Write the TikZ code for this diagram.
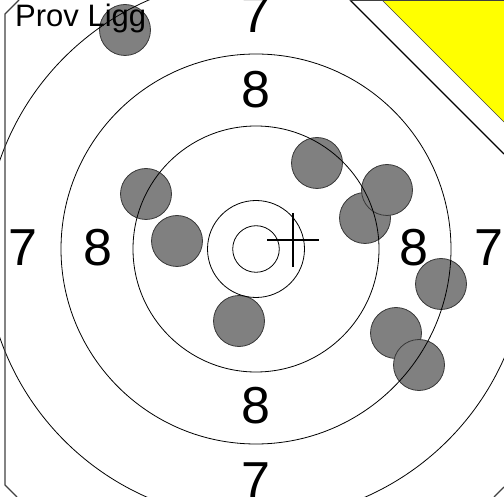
\documentclass[tikz,border=0pt]{standalone}
\usepackage{fontspec}
\setmainfont{Liberation Sans}
\usepackage{xcolor}
\definecolor{shotgrey}{HTML}{808080}
\definecolor{shotedge}{HTML}{383838}
\definecolor{flag}{HTML}{FFFF00}
\definecolor{edge}{HTML}{404040}
\usepackage{tikz}
\usetikzlibrary{positioning,calc}
\tikzset{
  ring/.style={draw=black,line width=0.8pt},
  shot/.style={circle,draw=shotedge,fill=shotgrey,line width=0.8pt,minimum size=51pt,inner sep=0pt},
  score/.style={font=\fontsize{52}{52}\selectfont,inner sep=0pt},
  frame/.style={draw=edge,line width=1.2pt},
  aim/.style={draw=black,line width=2pt},
}

\begin{document}
\begin{tikzpicture}[x=1pt,y=-1pt]
  \useasboundingbox (0,0) rectangle (504,497);
  \clip (0,0) rectangle (504,497);
  \coordinate (c) at (256,249);
  % hits
  \foreach \n/\x/\y in {1/125/30,2/317/163,3/365/218,4/387/190,5/146/194,
    6/177/241,7/239/321,8/441/284,9/396/333,10/419/365}
    \node[shot] (shot\n) at (\x,\y) {};
  % rings
  \foreach \r in {23.3,48.5,123,195,271}
    \draw[ring] (c) circle[radius=\r pt];
  % aim mark
  \coordinate (aim) at (293,240);
  \draw[aim] ($(aim)+(-26,0)$) -- ($(aim)+(26,0)$);
  \draw[aim] ($(aim)+(0,-27)$) -- ($(aim)+(0,27)$);
  % ring values
  \foreach \a/\d in {0/e,90/n,180/w,270/s} {
    \node[score] (eight\d) at ($(c)+(\a:158pt)+(0,-1)$) {8};
    \node[score] (seven\d) at ($(c)+(\a:233pt)+(0,-1)$) {7};
  }
  \node[anchor=base west,inner sep=0pt,font=\fontsize{31}{31}\selectfont] (title) at (15,27) {Prov Ligg};
  % corner flag
  \fill[white] (350,0) -- (504,0) -- (504,154) -- cycle;
  \fill[flag] (382,0) -- (504,0) -- (504,122) -- cycle;
  \draw[edge,line width=0.5pt] (382,0) -- (504,122);
  % frame
  \draw[frame] (19,0) -- (5,14) -- (5,485) -- (17,497);
  \draw[frame] (494,497) -- (504,487);
  \draw[black,line width=1.2pt] (350,0) -- (504,154);
  \draw[edge,line width=1pt] (350,0.5) -- (504,0.5);
\end{tikzpicture}
\end{document}
